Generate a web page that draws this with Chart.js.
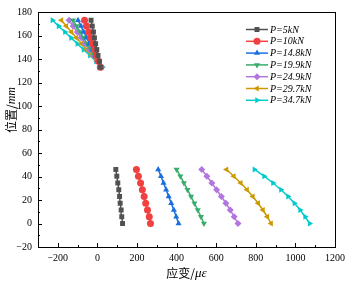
<!DOCTYPE html>
<html>
<head>
<meta charset="utf-8">
<script src="https://cdn.jsdelivr.net/npm/chart.js@4.4.1/dist/chart.umd.min.js"></script>
<style>
  html, body { margin: 0; padding: 0; background: #fff; }
  canvas { display: block; }
</style>
</head>
<body>
<canvas id="c" width="350" height="283"></canvas>
<script>
// ── Data ──────────────────────────────────────────────────
const loads     = ['P=5kN', 'P=10kN', 'P=14.8kN', 'P=19.9kN', 'P=24.9kN', 'P=29.7kN', 'P=34.7kN'];
const colors    = ['#515151', '#F14040', '#1A6FDF', '#37AD6B', '#B177DE', '#CC9900', '#00CBCC'];
const markers   = ['rect', 'circle', 'triangle', 'triangle', 'rectRot', 'triangle', 'triangle'];
const rotations = [0, 0, 0, 180, 0, -90, 90];

// positions (mm) of the two gauge groups
const posLow  = [0, 5.75, 11.5, 17.25, 23, 28.75, 34.5, 40.25, 46];
const posHigh = [133, 138, 143, 148, 153, 158, 163, 168, 173];

// strain (με) at each position, lower group
const strainLow = [
  [127, 123, 120, 115, 112, 108, 103, 98, 93],
  [268, 262, 253, 244, 236, 227, 218, 207, 197],
  [410, 398, 386, 373, 360, 347, 334, 321, 307],
  [538, 523, 507, 490, 473, 455, 437, 419, 400],
  [710, 691, 671, 649, 626, 602, 578, 553, 527],
  [877, 858, 836, 812, 785, 756, 724, 689, 652],
  [1072, 1049, 1024, 995, 963, 927, 887, 842, 793]
];
// strain (με) at each position, upper group
const strainHigh = [
  [15, 10, 3, -3, -9, -15, -20, -26, -32],
  [15, 6, -4, -14, -24, -34, -45, -55, -65],
  [18, 4, -11, -25, -40, -54, -69, -83, -98],
  [20, 2, -16, -34, -52, -69, -87, -105, -123],
  [20, 0, -21, -41, -62, -82, -102, -123, -143],
  [22, -4, -29, -55, -80, -106, -131, -157, -182],
  [25, -7, -38, -70, -101, -133, -164, -196, -227]
];

const serif = '"Liberation Serif", "Times New Roman", serif';
const cjk   = '"Noto Sans CJK SC", sans-serif';

const datasets = loads.map((name, i) => ({
  label: name,
  data: [
    ...posLow.map((p, k) => ({ x: strainLow[i][k], y: p })),
    { x: null, y: null },
    ...posHigh.map((p, k) => ({ x: strainHigh[i][k], y: p }))
  ],
  borderColor: colors[i],
  backgroundColor: colors[i],
  borderWidth: 1.5,
  pointStyle: markers[i],
  pointRotation: rotations[i],
  pointRadius: 3.5,
  pointBorderWidth: 0,
  spanGaps: false,
  tension: 0
}));

// ── Frame, inward ticks, titles, legend ───────────────────
const decorPlugin = {
  id: 'decor',
  afterDraw(chart) {
    const { ctx, chartArea: a, scales } = chart;
    ctx.save();
    ctx.strokeStyle = '#000';
    ctx.lineWidth = 1;
    ctx.strokeRect(Math.round(a.left) + 0.5, Math.round(a.top) + 0.5,
                   Math.round(a.right - a.left), Math.round(a.bottom - a.top));

    ctx.beginPath();
    scales.x.ticks.forEach(t => {
      const px = Math.round(scales.x.getPixelForValue(t.value)) + 0.5;
      const len = t.value % 200 === 0 ? 4 : 2;
      ctx.moveTo(px, a.bottom);
      ctx.lineTo(px, a.bottom - len);
    });
    scales.y.ticks.forEach(t => {
      const py = Math.round(scales.y.getPixelForValue(t.value)) + 0.5;
      const len = t.value % 20 === 0 ? 4 : 2;
      ctx.moveTo(a.left, py);
      ctx.lineTo(a.left + len, py);
    });
    ctx.stroke();

    // x title: 应变/με
    ctx.fillStyle = '#000';
    ctx.textBaseline = 'middle';
    ctx.font = '12px ' + cjk;
    const p1 = '应变/';
    ctx.font = '12px ' + cjk;
    const w1 = ctx.measureText(p1).width;
    ctx.font = 'italic 13px ' + serif;
    const w2 = ctx.measureText('με').width;
    let x0 = (a.left + a.right) / 2 - (w1 + w2) / 2;
    ctx.font = '12px ' + cjk;
    ctx.textAlign = 'left';
    ctx.fillText(p1, x0, 273);
    ctx.font = 'italic 13px ' + serif;
    ctx.fillText('με', x0 + w1, 274);

    // y title: 位置/mm
    ctx.save();
    ctx.translate(11, 110);
    ctx.rotate(-Math.PI / 2);
    ctx.font = '12px ' + cjk;
    const q1 = '位置/';
    const v1 = ctx.measureText(q1).width;
    ctx.font = 'italic 12px ' + serif;
    const v2 = ctx.measureText('mm').width;
    const s0 = -(v1 + v2) / 2;
    ctx.font = '12px ' + cjk;
    ctx.fillText(q1, s0, 0);
    ctx.font = 'italic 12px ' + serif;
    ctx.fillText('mm', s0 + v1, 1);
    ctx.restore();

    // legend
    chart.data.datasets.forEach((ds, i) => {
      const y = 29.5 + i * 11.8;
      ctx.strokeStyle = ds.borderColor;
      ctx.lineWidth = 1.5;
      ctx.beginPath();
      ctx.moveTo(246, y);
      ctx.lineTo(268, y);
      ctx.stroke();
      ctx.fillStyle = ds.backgroundColor;
      Chart.helpers.drawPoint(ctx, {
        pointStyle: ds.pointStyle, rotation: ds.pointRotation,
        radius: 3.5, borderWidth: 0
      }, 257, y);
      ctx.fillStyle = '#000';
      ctx.font = 'italic 10px ' + serif;
      ctx.textAlign = 'left';
      ctx.fillText(ds.label, 270, y + 0.5);
    });
    ctx.restore();
  }
};

new Chart(document.getElementById('c'), {
  type: 'line',
  data: { datasets },
  plugins: [decorPlugin],
  options: {
    responsive: false,
    animation: false,
    devicePixelRatio: 1,
    layout: { padding: { top: 6, right: 11, left: 0, bottom: 0 } },
    plugins: { legend: { display: false }, tooltip: { enabled: false } },
    scales: {
      x: {
        type: 'linear',
        min: -300, max: 1200,
        grid: { display: false, drawTicks: false },
        border: { display: false },
        afterFit: s => { s.height = 36; },
        ticks: {
          stepSize: 100,
          padding: 5,
          color: '#000',
          maxRotation: 0,
          autoSkip: false,
          font: { family: serif, size: 10 },
          callback: v => (v % 200 === 0 ? String(v).replace('-', '\u2212') : '')
        }
      },
      y: {
        type: 'linear',
        min: -20, max: 180,
        grid: { display: false, drawTicks: false },
        border: { display: false },
        afterFit: s => { s.width = 38; },
        ticks: {
          stepSize: 10,
          padding: 6,
          color: '#000',
          autoSkip: false,
          font: { family: serif, size: 10 },
          callback: v => (v % 20 === 0 ? String(v).replace('-', '\u2212') : '')
        }
      }
    }
  }
});
</script>
</body>
</html>
